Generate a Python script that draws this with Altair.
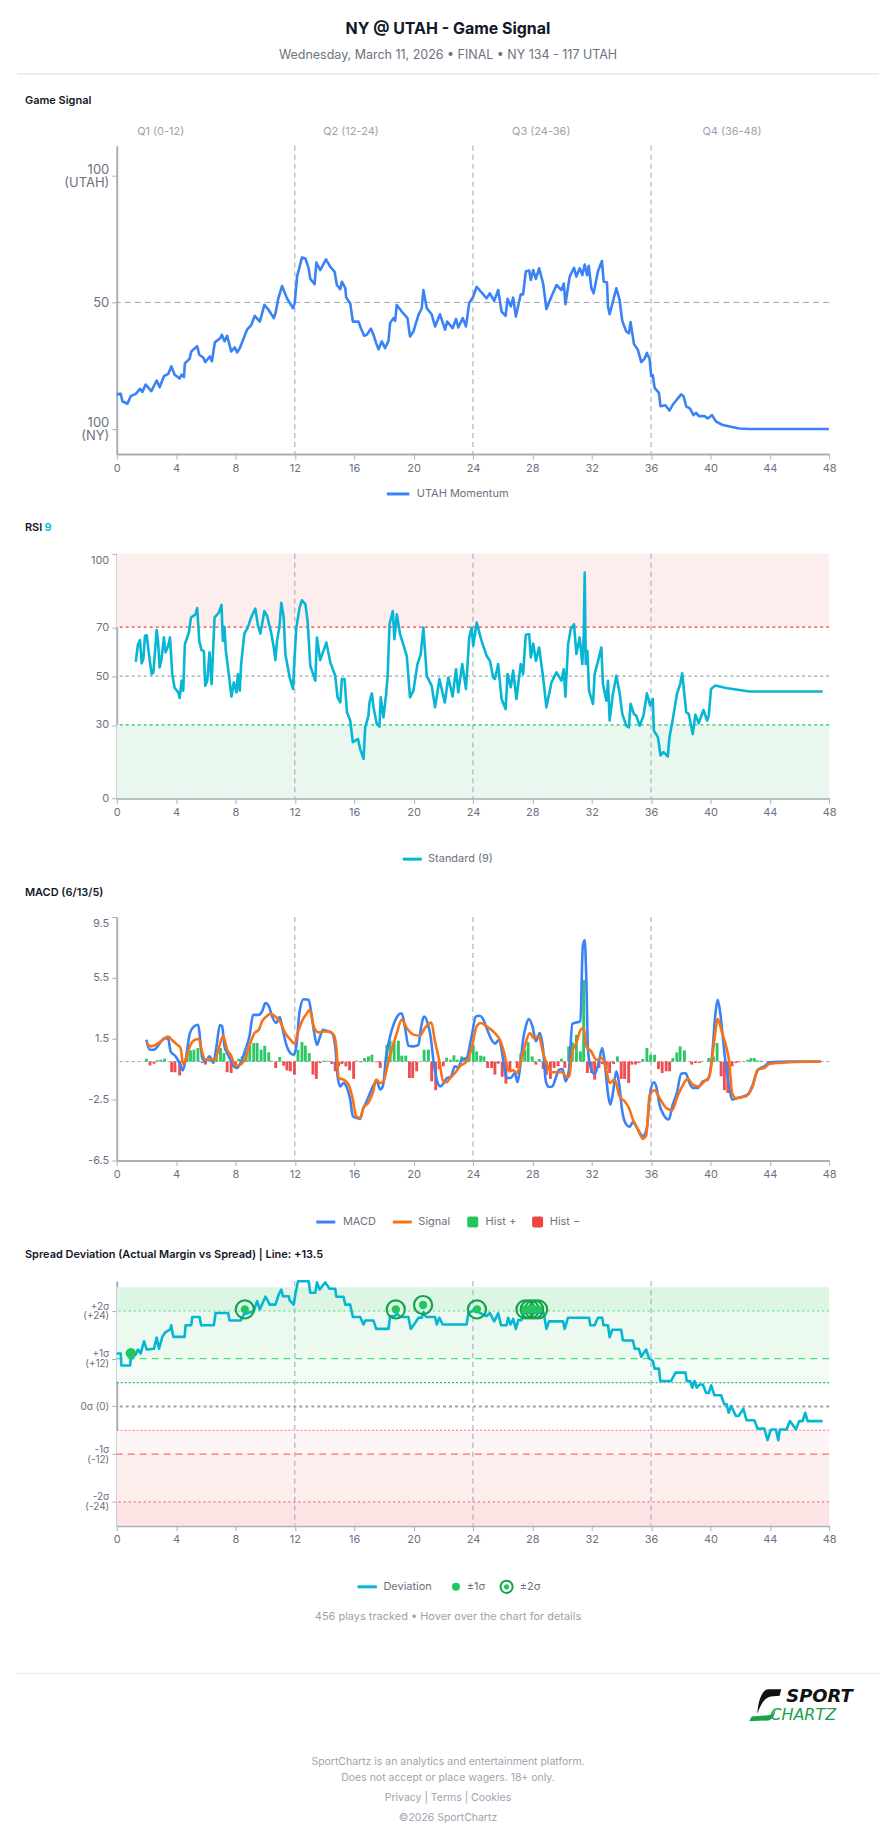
import altair as alt
import pandas as pd

# ---------------- palette / type ----------------
FONT = "Inter"
INK = "#111827"
MUTED = "#6b7280"
FAINT = "#9ca3af"
AXIS_GRAY = "#a9aeb8"
REF_GRAY = "#9ca3af"
BLUE = "#3b82f6"
CYAN = "#06b6d4"
ORANGE = "#f97316"
GREEN = "#22c55e"
DARK_GREEN = "#16a34a"
RED = "#ef4444"

PLOT_W = 714          # plot-area width shared by every panel
PLOT_LEFT = 116       # page x of the plot-area left edge

# ---------------- data ----------------
quarter_breaks = [12, 24, 36]
quarter_names = ["Q1 (0-12)", "Q2 (12-24)", "Q3 (24-36)", "Q4 (36-48)"]
quarter_name_pos = [2.96, 15.78, 28.6, 41.45]

# Game signal: 0 = NY certain, 100 = UTAH certain
momentum_t = [0, 0.27, 0.38, 0.72, 0.94, 1.28, 1.57, 1.73, 1.95, 2.33, 2.69, 2.89, 3.18, 3.47,
              3.68, 3.9, 4.24, 4.37, 4.53, 4.59, 4.91, 5.02, 5.42, 5.56, 5.83, 5.96, 6.27, 6.41,
              6.61, 6.99, 7.08, 7.26, 7.44, 7.71, 7.96, 8.11, 8.29, 8.78, 9.05, 9.3, 9.64, 9.95,
              10.24, 10.58, 10.71, 10.87, 11.14, 11.47, 11.88, 11.99, 12.15, 12.48, 12.71, 12.93,
              13.04, 13.33, 13.45, 13.71, 14.1, 14.39, 14.68, 14.83, 15.06, 15.17, 15.4, 15.46,
              15.73, 15.91, 16.29, 16.45, 16.67, 16.85, 17.12, 17.3, 17.48, 17.64, 17.86, 18.08,
              18.31, 18.42, 18.64, 18.76, 18.87, 19.2, 19.59, 19.76, 19.99, 20.33, 20.55, 20.66,
              20.89, 21.22, 21.45, 21.78, 22.12, 22.27, 22.63, 22.86, 23.01, 23.31, 23.53, 23.75,
              24.02, 24.25, 24.92, 25.14, 25.43, 25.7, 25.93, 26.2, 26.33, 26.55, 26.71, 26.89,
              27.22, 27.38, 27.56, 27.79, 27.9, 28.06, 28.24, 28.46, 28.73, 28.95, 29.29, 29.63,
              29.96, 30.12, 30.23, 30.52, 30.81, 30.97, 31.19, 31.37, 31.53, 31.69, 31.8, 31.98,
              32.13, 32.43, 32.69, 32.81, 33.03, 33.1, 33.21, 33.43, 33.66, 33.88, 34.06, 34.33,
              34.51, 34.62, 34.85, 35.11, 35.34, 35.56, 35.72, 35.9, 36.01, 36.12, 36.24, 36.53,
              36.64, 36.97, 37.24, 37.47, 38.03, 38.19, 38.37, 38.63, 38.86, 39.04, 39.22, 39.6,
              39.82, 40.11, 40.38, 40.83, 41.39, 41.95, 42.62, 47.98]
momentum_v = [13.6, 13.8, 10.9, 9.9, 12.9, 13.8, 15.8, 14.6, 17.5, 14.9, 19.1, 16.4, 20.8, 21.7,
              24.7, 21.4, 19.9, 21.4, 20.4, 25.9, 27.7, 30.6, 32.7, 29.3, 28.2, 26.4, 28.6, 26.7,
              34.2, 35.9, 37.2, 34.6, 36.8, 30.6, 32.2, 30.2, 31.9, 39.2, 40.9, 44.7, 42.4, 49.0,
              47.0, 43.8, 46.0, 51.2, 56.5, 51.6, 47.7, 49.7, 60.2, 67.8, 67.4, 63.5,
              59.3, 57.2, 65.8, 62.8, 67.0, 64.1, 62.1, 56.9, 55.2, 58.2, 55.6, 51.9,
              49.7, 42.4, 42.4, 39.8, 36.8, 37.2, 39.6, 37.2, 33.9, 31.5, 34.6, 31.9,
              34.8, 41.8, 43.8, 42.7, 49.0, 46.4, 43.8, 36.5, 38.5, 45.1, 47.7, 54.9,
              47.7, 45.3, 40.5, 45.3, 39.2, 42.4, 39.8, 43.5, 40.1, 43.8, 40.5, 49.7,
              52.3, 56.2, 51.6, 53.6, 50.6, 54.9, 46.4, 44.7, 51.4, 48.4, 51.9, 44.4,
              53.2, 53.2, 62.2, 62.6, 58.9, 62.8, 59.3, 63.5, 57.5, 47.4, 52.3, 56.9,
              54.9, 57.5, 49.3, 60.2, 63.7, 60.2, 63.5, 60.8, 65.0, 60.8, 64.5, 55.6,
              53.6, 62.4, 66.4, 58.2, 58.0, 48.4, 45.3, 50.3, 55.6, 51.0, 42.7, 38.5,
              37.8, 42.2, 33.5, 31.3, 26.4, 27.7, 30.0, 27.7, 20.8, 21.2, 16.2, 14.2,
              8.9, 9.3, 7.2, 9.6, 13.6, 12.9, 8.9, 8.0, 5.4, 6.3, 5.0, 5.0,
              4.1, 5.4, 2.8, 1.5, 0.8, 0.1, -0.1, -0.1]

rsi_t = [1.28, 1.43, 1.57, 1.68, 1.79, 1.9, 2.02, 2.17, 2.35, 2.47, 2.69, 2.78, 2.89, 3.0, 3.18,
         3.29, 3.47, 3.59, 3.74, 3.9, 4.15, 4.24, 4.37, 4.48, 4.59, 4.86, 5.0, 5.31, 5.42, 5.56,
         5.71, 5.87, 5.96, 6.1, 6.25, 6.39, 6.59, 6.88, 7.06, 7.15, 7.26, 7.35, 7.55, 7.73, 7.89,
         8.07, 8.16, 8.29, 8.38, 8.6, 8.83, 9.05, 9.34, 9.52, 9.68, 9.95, 10.13, 10.4, 10.58,
         10.69, 10.8, 10.96, 11.09, 11.25, 11.36, 11.65, 11.88, 11.97, 12.1, 12.32, 12.48, 12.71,
         12.86, 13.04, 13.38, 13.49, 13.71, 14.12, 14.39, 14.72, 14.88, 15.06, 15.17, 15.35,
         15.51, 15.73, 15.91, 16.25, 16.4, 16.63, 16.74, 16.96, 17.03, 17.19, 17.3, 17.52, 17.7,
         17.79, 17.97, 18.15, 18.26, 18.38, 18.6, 18.71, 18.87, 19.09, 19.27, 19.54, 19.76,
         19.99, 20.26, 20.48, 20.66, 20.89, 21.22, 21.45, 21.74, 22.1, 22.34, 22.63, 22.86,
         23.01, 23.28, 23.53, 23.75, 23.91, 24.02, 24.25, 24.58, 24.92, 25.14, 25.37, 25.48,
         25.7, 25.93, 26.2, 26.33, 26.55, 26.71, 26.93, 27.22, 27.38, 27.56, 27.79, 27.9, 28.06,
         28.24, 28.46, 28.73, 28.95, 29.29, 29.63, 29.96, 30.12, 30.23, 30.41, 30.59, 30.81,
         30.97, 31.19, 31.37, 31.46, 31.53, 31.6, 31.71, 31.82, 32.09, 32.2, 32.43, 32.65,
         32.76, 32.99, 33.1, 33.21, 33.43, 33.66, 33.88, 34.06, 34.33, 34.51, 34.62, 34.84,
         35.0, 35.23, 35.49, 35.72, 35.94, 36.12, 36.19, 36.46, 36.64, 36.84, 37.13, 37.24,
         37.47, 37.74, 37.96, 38.1, 38.37, 38.54, 38.81, 38.99, 39.21, 39.53, 39.78, 39.89,
         40.04, 40.33, 41.05, 41.5, 41.95, 42.62, 47.56]
rsi_v = [55.8, 63.0, 64.7, 55.2, 56.9, 66.5, 66.7, 59.0, 50.8, 51.5, 68.8, 64.4, 53.5, 56.2, 65.8,
         59.7, 62.4, 65.8, 50.8, 45.1, 43.3, 41.0, 48.1, 44.0, 63.0, 67.8, 73.9, 75.3, 77.8, 64.4,
         60.6, 60.3, 46.0, 48.1, 59.7, 46.7, 73.9, 76.0, 79.1, 64.4, 70.1, 60.3, 50.8, 41.6, 47.4,
         43.3, 50.8, 44.0, 54.9, 67.4, 69.8, 73.9, 77.6, 70.5, 67.4, 76.6, 74.6, 67.8, 61.7,
         56.5, 64.4, 70.1, 80.0, 73.9, 59.0, 49.4, 44.7, 56.2, 69.8, 78.0, 81.0, 79.4,
         72.6, 54.2, 48.1, 65.8, 56.5, 63.7, 55.6, 50.1, 41.3, 39.2, 48.8, 48.8,
         35.2, 31.8, 22.9, 24.3, 20.2, 16.1, 29.0, 33.8, 39.2, 42.9, 37.2, 30.4, 29.3,
         41.3, 33.1, 42.6, 50.8, 71.2, 76.6, 65.1, 75.3, 67.1, 63.7, 58.3, 41.3,
         44.0, 54.9, 58.9, 69.8, 50.1, 46.0, 37.2, 48.8, 39.2, 49.4, 41.6, 52.8,
         43.3, 54.9, 44.7, 65.8, 69.8, 62.4, 71.9, 64.4, 58.3, 56.2, 49.4, 48.8,
         54.9, 40.6, 36.5, 50.8, 45.4, 52.2, 40.6, 54.9, 50.8, 66.9, 67.1, 57.6, 63.3,
         56.2, 61.7, 49.4, 37.2, 47.4, 51.5, 48.1, 52.8, 41.6, 63.0, 69.2, 71.2,
         59.0, 65.8, 54.9, 65.8, 92.3, 54.9, 60.3, 44.0, 38.6, 50.8, 56.2, 61.7,
         46.7, 39.9, 48.1, 31.8, 42.6, 50.1, 43.3, 34.5, 29.7, 29.0, 38.6, 34.5,
         33.8, 29.7, 33.8, 42.9, 37.9, 40.6, 27.7, 25.0, 17.5, 18.9, 17.1, 25.0,
         32.4, 42.6, 46.7, 51.1, 35.2, 34.5, 26.3, 34.2, 30.7, 36.1, 31.8, 33.8,
         44.7, 46.1, 45.1, 44.7, 44.3, 43.7, 43.7]

macd_t = [2.0, 2.22, 2.51, 2.91, 3.23, 3.47, 3.63, 3.97, 4.24, 4.46, 4.64, 4.93, 5.2, 5.49, 5.6,
          5.76, 5.98, 6.25, 6.5, 6.72, 6.95, 7.1, 7.26, 7.44, 7.66, 7.89, 8.11, 8.34, 8.67, 8.94,
          9.19, 9.57, 9.79, 10.02, 10.24, 10.47, 10.74, 10.98, 11.14, 11.43, 11.7, 11.92, 12.1,
          12.32, 12.59, 12.93, 13.11, 13.31, 13.49, 13.67, 13.89, 14.27, 14.5, 14.72, 14.88,
          15.06, 15.28, 15.51, 15.73, 15.91, 16.13, 16.4, 16.58, 16.81, 17.03, 17.26, 17.52,
          17.75, 17.93, 18.15, 18.42, 18.69, 18.98, 19.2, 19.43, 19.65, 19.99, 20.33, 20.48,
          20.71, 20.95, 21.18, 21.33, 21.56, 21.8, 22.0, 22.23, 22.5, 22.79, 23.01, 23.24,
          23.57, 23.91, 24.2, 24.47, 24.7, 24.92, 25.25, 25.48, 25.77, 25.93, 26.1, 26.26,
          26.55, 26.82, 27.0, 27.16, 27.38, 27.56, 27.76, 28.01, 28.24, 28.5, 28.73, 28.91,
          29.13, 29.35, 29.58, 29.8, 30.03, 30.25, 30.47, 30.7, 30.96, 31.24, 31.4, 31.53,
          31.64, 31.75, 31.97, 32.2, 32.49, 32.71, 32.87, 33.09, 33.25, 33.43, 33.66, 33.84,
          34.06, 34.33, 34.56, 34.78, 35.12, 35.45, 35.72, 35.94, 36.19, 36.35, 36.57, 36.84,
          37.2, 37.43, 37.74, 38.03, 38.32, 38.59, 38.81, 39.15, 39.49, 39.83, 40.11, 40.34,
          40.49, 40.65, 40.83, 41.01, 41.23, 41.46, 41.84, 42.51, 42.85, 43.18, 43.63, 43.97,
          45.3, 47.44]
macd_v = [1.44, 0.78, 0.78, 1.22, 1.55, 1.48, 0.67, 0.34, -0.1, -0.58, 0.12, 1.87, 2.31, 2.42, 1.66,
          0.23, 0.0, 0.34, -0.05, 1.0, 2.4, 2.31, 1.0, 0.56, 0.12, -0.31, -0.42, -0.1, 0.78, 1.66,
          3.07, 3.07, 3.29, 3.84, 3.66, 2.96, 2.53, 2.92, 2.31, 1.1, 0.56, 0.45, 1.0,
          3.29, 4.1, 4.06, 3.18, 1.87, 1.1, 1.55, 2.09, 1.98, 1.87, 1.0, -0.97,
          -1.63, -1.41, -1.73, -2.5, -3.59, -3.7, -3.77, -3.16, -2.67, -2.17, -1.63, -1.3,
          -1.84, -1.63, 0.34, 1.66, 2.53, 3.07, 3.18, 2.2, 1.04, 1.0, 1.1, 2.09,
          2.96, 2.53, 1.44, 0.12, -1.19, -1.63, -1.45, -1.1, -1.0, -0.31, -0.4, 0.12,
          0.23, 1.66, 2.97, 3.01, 2.75, 2.2, 1.44, 1.18, 1.44, 0.78, -0.31, -1.08,
          -1.08, -0.75, -1.36, -0.53, 1.44, 2.31, 2.79, 2.31, 1.33, 1.87, 0.78, -1.3,
          -1.67, -1.63, -1.08, -0.53, -0.49, -1.3, -0.53, 2.48, 2.57, 2.64, 7.55, 7.99,
          5.37, 0.78, -0.53, -0.82, 0.0, 0.89, 0.0, -2.06, -2.83, -2.06, -0.64, -1.41,
          -3.27, -4.14, -4.29, -3.98, -4.47, -4.9, -4.36, -2.06, -1.36, -1.63, -2.83, -3.48,
          -3.81, -2.93, -2.06, -0.8, -0.75, -1.41, -1.73, -1.73, -1.3, -1.19, 0.34, 3.18,
          4.06, 3.29, 1.66, 0.0, -1.41, -2.5, -2.39, -2.17, -1.52, -0.58, -0.31, -0.05,
          0.0, 0.0]

signal_t = [2.0, 2.29, 2.62, 2.96, 3.29, 3.47, 3.74, 4.08, 4.3, 4.48, 4.64, 4.97, 5.27, 5.54, 5.71,
            5.98, 6.32, 6.61, 6.88, 7.17, 7.44, 7.71, 8.0, 8.34, 8.67, 9.0, 9.28, 9.57, 9.79,
            10.08, 10.35, 10.69, 11.03, 11.36, 11.7, 11.97, 12.26, 12.59, 12.82, 13.0, 13.27,
            13.6, 13.94, 14.27, 14.61, 14.79, 14.95, 15.28, 15.62, 15.91, 16.13, 16.4, 16.63,
            16.96, 17.26, 17.48, 17.75, 17.97, 18.26, 18.53, 18.87, 19.2, 19.54, 19.99, 20.43,
            20.76, 21.2, 21.42, 21.72, 22.0, 22.23, 22.45, 22.79, 23.12, 23.57, 23.91, 24.25,
            24.52, 24.92, 25.48, 25.81, 26.08, 26.33, 26.48, 26.71, 26.97, 27.22, 27.49, 27.83,
            28.1, 28.43, 28.73, 29.0, 29.3, 29.63, 30.03, 30.25, 30.47, 30.7, 30.96, 31.26,
            31.46, 31.64, 31.97, 32.31, 32.71, 32.98, 33.21, 33.54, 33.88, 34.22, 34.51, 34.78,
            35.12, 35.45, 35.67, 35.9, 36.23, 36.57, 37.02, 37.43, 37.74, 38.1, 38.48, 38.81,
            39.21, 39.6, 39.93, 40.27, 40.49, 40.79, 41.06, 41.28, 41.46, 41.72, 42.4, 42.85,
            43.18, 43.63, 43.97, 45.3, 47.44]
signal_v = [1.22, 1.0, 1.1, 1.33, 1.55, 1.65, 1.4, 1.1, 0.89, -0.2, 0.12, 1.1, 1.44, 1.48, 0.78,
            0.12, 0.17, 0.12, 0.89, 1.7, 0.78, 0.39, -0.27, -0.2, 0.23, 1.22, 1.87, 2.09, 2.64,
            2.96, 3.14, 2.96, 2.57, 1.87, 1.44, 1.18, 2.09, 2.86, 3.18, 3.4, 2.31,
            1.92, 1.98, 1.98, 1.77, 1.0, -1.08, -1.19, -1.52, -2.5, -3.59, -3.7, -3.03,
            -2.7, -2.04, -1.19, -1.41, -1.3, -0.2, 0.78, 1.87, 2.75, 2.2, 1.77, 1.7,
            2.2, 2.57, 1.44, 0.12, -1.3, -1.35, -1.1, -0.75, -0.31, 0.0, 0.89, 2.31,
            2.53, 2.31, 1.87, 1.44, 0.67, -0.42, -0.6, -0.58, -0.75, 0.0, 1.0, 1.87,
            1.55, 1.66, 0.56, -0.2, -0.7, -0.7, -0.7, -0.97, -1.0, 0.67, 1.22, 2.09,
            2.2, 1.0, 0.67, 0.12, 0.23, -0.53, -1.41, -1.19, -2.28, -2.61, -3.05, -3.81,
            -4.47, -5.08, -4.86, -2.28, -1.89, -2.39, -3.05, -3.2, -2.39, -1.63, -1.14, -1.52,
            -1.63, -1.3, -0.97, 1.44, 2.79, 1.87, 1.0, -0.1, -2.06, -2.39, -2.28, -1.63,
            -0.53, -0.42, -0.15, -0.05, 0.0]

hist_t = [2.0, 2.24, 2.51, 2.73, 2.96, 3.23, 3.7, 3.92, 4.24, 4.48, 4.75, 4.97, 5.2, 5.47, 5.76,
          5.98, 6.25, 6.5, 6.72, 6.99, 7.22, 7.44, 7.71, 8.0, 8.22, 8.45, 8.72, 8.96, 9.23, 9.46,
          9.73, 9.97, 10.24, 10.47, 10.71, 10.98, 11.25, 11.47, 11.7, 11.97, 12.21, 12.48, 12.71,
          12.97, 13.22, 13.45, 13.71, 13.94, 14.21, 14.5, 14.72, 14.95, 15.17, 15.44, 15.69,
          15.96, 16.18, 16.45, 16.69, 16.96, 17.19, 17.48, 17.75, 18.2, 18.42, 18.69, 18.98,
          19.2, 19.47, 19.72, 19.94, 20.21, 20.71, 21.0, 21.22, 21.49, 21.74, 22.0, 22.23,
          22.5, 22.72, 22.95, 23.24, 23.46, 23.75, 24.02, 24.25, 24.52, 24.74, 24.99, 25.26,
          25.48, 25.7, 25.97, 26.22, 26.49, 26.98, 27.22, 27.49, 27.72, 27.99, 28.24, 28.46,
          28.73, 28.95, 29.22, 29.47, 29.74, 29.96, 30.19, 30.45, 30.7, 30.97, 31.24, 31.46,
          31.71, 31.98, 32.2, 32.49, 32.71, 32.99, 33.21, 33.48, 33.73, 33.99, 34.22, 34.49,
          34.71, 34.96, 35.18, 35.45, 35.72, 35.97, 36.24, 36.5, 36.75, 37.02, 37.25, 37.47,
          37.74, 37.96, 38.25, 38.74, 38.99, 39.26, 39.89, 40.2, 40.45, 40.72, 40.94, 41.17,
          41.46, 41.72, 41.95, 42.51, 42.73, 42.96, 43.18, 43.41]
hist_v = [0.19, -0.25, -0.14, 0.08, 0.12, 0.19, -0.7, -0.7, -0.92, -0.1, 0.56, 0.74, 0.78, 0.89, -0.1,
          -0.2, 0.17, -0.14, 0.56, 0.89, 0.56, -0.7, -0.75, -0.36, 0.19, 0.34, 0.67, 1.04, 1.22, 1.22,
          0.78, 1.04, 0.61, 0.05, -0.42, 0.3, -0.27, -0.58, -0.64, -0.86, 0.78, 1.28, 1.04,
          0.56, -0.86, -1.14, -0.1, 0.06, 0.06, -0.16, -0.64, -0.31, -0.16, -0.31, -0.58,
          -1.14, 0.06, -0.05, 0.23, 0.34, 0.45, -0.05, -0.42, 1.1, 1.37, 1.37, 1.37,
          0.39, 0.39, -1.08, -1.08, -0.64, 0.78, 0.78, -1.3, -1.88, -0.49, -0.31, 0.25,
          0.12, 0.41, 0.12, 0.34, 0.17, 0.45, 1.1, 0.67, 0.39, 0.34, -0.42, -0.42,
          -0.86, -0.14, -1.0, -1.45, -0.7, -0.42, 0.52, 0.78, 1.27, 0.34, -0.2, 0.17,
          -0.49, -0.86, -1.14, -0.42, -0.31, 0.19, -0.42, 0.99, 1.27, 1.76, 0.67, 5.37,
          -0.75, -0.75, -1.19, -0.42, -0.16, -0.49, -0.75, -0.16, 0.34, -1.14, -1.14, -1.41,
          -0.2, -0.2, -0.1, 0.17, 0.89, 0.45, 0.45, -0.49, -0.75, -0.64, -0.64, 0.23,
          0.6, 1.0, 0.74, -0.2, -0.1, -0.1, 0.23, 0.34, 1.22, -0.97, -1.88, -2.06,
          -0.31, -0.1, -0.05, 0.12, 0.23, 0.23, 0.08, 0.06]

# actual margin minus spread (points); 12 points = 1 sigma
spread_t = [0, 0.27, 0.31, 0.9, 0.94, 1.28, 1.43, 1.61, 1.84, 2.02, 2.51, 2.69, 2.85, 3.07, 3.29,
            3.59, 3.67, 3.81, 4.57, 4.64, 5.02, 5.09, 5.58, 5.69, 6.54, 6.66, 7.51, 7.6, 8.34,
            8.56, 9.23, 9.46, 9.64, 10.02, 10.31, 10.69, 10.91, 11.09, 11.2, 11.59, 11.65, 11.92,
            12.03, 12.21, 12.93, 13.04, 13.38, 13.49, 13.67, 14.05, 14.34, 14.72, 14.79, 15.28,
            15.4, 15.73, 15.91, 16.4, 16.63, 16.74, 17.3, 17.48, 18.31, 18.42, 18.76, 18.87,
            19.09, 19.65, 19.81, 20.1, 20.33, 20.55, 20.66, 20.84, 21.45, 21.56, 21.74, 21.96,
            23.57, 23.69, 24.13, 24.47, 24.92, 25.14, 25.43, 25.7, 25.9, 26.26, 26.37, 26.53,
            26.71, 26.89, 27.05, 27.27, 27.43, 28.77, 28.95, 29.13, 30.07, 30.18, 30.4, 31.82,
            31.91, 32.2, 32.42, 32.71, 32.8, 33.1, 33.21, 33.39, 33.99, 34.1, 34.78, 34.9, 35.18,
            35.34, 35.67, 35.85, 36.12, 36.24, 36.53, 36.62, 37.35, 37.65, 38.32, 38.41, 38.63,
            38.77, 38.93, 39.08, 39.26, 39.49, 39.71, 39.89, 40.05, 40.27, 40.72, 40.94, 41.1,
            41.23, 41.39, 41.72, 41.9, 42.22, 42.44, 42.96, 43.18, 43.63, 43.85, 44.08, 44.41,
            44.57, 44.68, 45.13, 45.36, 45.76, 45.98, 46.21, 46.39, 46.55, 47.56]
spread_v = [13.3, 13.3, 10.3, 10.3, 11.8, 13.1, 14.3, 13.3, 16.4, 14.3, 14.5, 17.3, 14.5, 17.5, 18.7,
            19.3, 20.4, 17.5, 17.5, 20.4, 20.4, 22.5, 22.5, 20.4, 20.4, 23.5, 23.5, 21.6, 21.6,
            23.1, 24.0, 26.5, 24.4, 27.6, 25.6, 25.6, 28.1, 29.4, 27.7, 27.7, 26.7, 25.6,
            28.1, 31.5, 31.5, 28.6, 28.6, 31.2, 29.4, 31.2, 29.6, 29.6, 27.6, 27.6,
            25.6, 25.6, 22.5, 22.5, 20.6, 21.6, 21.6, 19.5, 19.5, 22.7, 22.8, 23.4,
            22.5, 22.5, 19.5, 21.0, 22.3, 22.3, 23.7, 22.5, 22.5, 20.6, 22.3, 20.6,
            20.6, 23.4, 24.4, 23.5, 22.7, 23.5, 21.4, 23.4, 20.4, 20.4, 22.3, 20.6,
            22.0, 19.5, 21.7, 21.7, 23.5, 23.5, 19.5, 21.4, 21.4, 19.5, 22.3, 22.3,
            20.4, 20.4, 22.3, 22.3, 20.4, 20.4, 17.4, 19.3, 19.3, 16.6, 16.6, 14.5, 14.5,
            12.5, 14.3, 12.2, 11.4, 9.5, 9.5, 6.4, 6.4, 8.5, 8.5, 6.4, 6.4,
            4.7, 6.4, 4.7, 5.5, 5.5, 3.4, 3.4, 5.3, 2.8, 2.8, 0.5, 0.5,
            -1.6, 0.1, -2.4, -2.4, -0.6, -3.5, -3.5, -5.6, -5.6, -8.5, -5.8, -5.8,
            -8.5, -5.8, -5.8, -3.7, -5.8, -3.7, -3.7, -1.6, -3.7, -3.7]

sigma1_t = [0.95]
sigma1_v = [13.4]
sigma2_t = [8.63, 18.8, 20.64, 24.27, 27.54, 27.83, 28.12, 28.39]
sigma2_v = [24.4, 24.4, 25.5, 24.4, 24.4, 24.4, 24.4, 24.4]

rsi_zone_lo = [70, 0]
rsi_zone_hi = [100, 30]
rsi_zone_fill = ["#fdeded", "#e9f7ee"]

spread_zone_lo = [24, 12, 6, -12, -24, -30]
spread_zone_hi = [30, 24, 12, -6, -12, -24]
spread_zone_fill = ["#ddf5e4", "#ebf9ef", "#f4fcf6", "#fef6f6", "#fdeeee", "#fde3e4"]

# ---------------- shared scales / axes ----------------
X_SCALE = alt.Scale(domain=[0, 48], nice=False, zero=False, padding=0)
X_AXIS = alt.Axis(values=list(range(0, 49, 4)), title=None, grid=False, labelFlush=False)
ONE = alt.Data(values=[{"k": 0}])


def ex(field):
    return alt.X(field, type="quantitative", scale=X_SCALE, axis=X_AXIS)


def frame(**cols):
    return pd.DataFrame(cols)


def label(s, x, y, size=11, color=MUTED, weight="normal", align="left", style="normal", font=FONT):
    return alt.Chart(ONE).mark_text(
        text=s, fontSize=size, color=color, fontWeight=weight, align=align,
        baseline="middle", font=font, fontStyle=style,
    ).encode(x=alt.value(x), y=alt.value(y))


def seg(x1, x2, y, color, width=1.0):
    return alt.Chart(ONE).mark_rule(color=color, strokeWidth=width).encode(
        x=alt.value(x1), x2=alt.value(x2), y=alt.value(y))


def dot(x, y, size, color, filled=True, width=2.0):
    return alt.Chart(ONE).mark_point(
        shape="circle", filled=filled, size=size, color=color, opacity=1, strokeWidth=width
    ).encode(x=alt.value(x), y=alt.value(y))


def rel(page_x):
    return page_x - PLOT_LEFT


def quarter_rules():
    return alt.Chart(frame(t=quarter_breaks)).mark_rule(
        color=REF_GRAY, strokeWidth=1, strokeDash=[5, 4]).encode(x=ex("t"))


# ---------------- header ----------------
header = alt.layer(
    seg(rel(0), rel(896), 0.5, "white"),
    label("NY @ UTAH - Game Signal", rel(448), 27.5, size=16, color=INK, weight="bold", align="center"),
    label("Wednesday, March 11, 2026 \u2022 FINAL \u2022 NY 134 - 117 UTAH", rel(448), 52.7,
          size=12.5, color=MUTED, align="center"),
    seg(rel(16), rel(880), 72, "#d9dbe0", 1),
    label("Game Signal", rel(24), 99.5, size=11, color=INK, weight=600),
).properties(width=PLOT_W, height=144)

# ---------------- panel 1: game signal ----------------
Y1_SCALE = alt.Scale(domain=[-10, 112], nice=False, zero=False)
Y1_AXIS = alt.Axis(
    values=[0, 50, 100], title=None, grid=False, labelFontSize=13, labelLineHeight=13,
    labelExpr="datum.value == 100 ? ['100', '(UTAH)'] : datum.value == 0 ? ['100', '(NY)'] : '50'",
    labelOffset={"condition": {"test": "datum.value == 100 || datum.value == 0", "value": -6.5}, "value": 0},
)


def ey1(field):
    return alt.Y(field, type="quantitative", scale=Y1_SCALE, axis=Y1_AXIS)


mom_df = frame(t=momentum_t, v=momentum_v)
p1 = alt.layer(
    alt.Chart(frame(v=[50])).mark_rule(color=REF_GRAY, strokeWidth=1, strokeDash=[6, 4]).encode(y=ey1("v")),
    quarter_rules(),
    alt.Chart(mom_df).mark_line(color=BLUE, strokeWidth=2.6, strokeJoin="round").encode(x=ex("t"), y=ey1("v")),
    alt.Chart(frame(t=quarter_name_pos, name=quarter_names)).mark_text(
        fontSize=11, color=FAINT, font=FONT, align="center", baseline="middle"
    ).encode(x=ex("t"), y=alt.value(-14), text="name:N"),
).properties(width=PLOT_W, height=309)

# ---------------- spacer A ----------------
spacer_a = alt.layer(
    seg(rel(386.7), rel(409.3), 40, BLUE, 3),
    label("UTAH Momentum", rel(416.7), 40),
    label("RSI", rel(24), 74, size=11, color=INK, weight=600),
    label("9", rel(43.5), 74, size=11, color=CYAN, weight=600),
).properties(width=PLOT_W, height=100)

# ---------------- panel 2: RSI ----------------
RSI_SCALE = alt.Scale(domain=[0, 100], nice=False)
RSI_AXIS = alt.Axis(values=[0, 30, 50, 70, 100], title=None, grid=False,
                    labelOffset={"condition": {"test": "datum.value == 100", "value": 7}, "value": 0})


def ersi(field):
    return alt.Y(field, type="quantitative", scale=RSI_SCALE, axis=RSI_AXIS)


rsi_panel = alt.layer(
    alt.Chart(frame(lo=rsi_zone_lo, hi=rsi_zone_hi, fill=rsi_zone_fill, t0=[0, 0], t1=[48, 48]))
    .mark_rect().encode(x=ex("t0"), x2="t1", y=ersi("lo"), y2="hi", color=alt.Color("fill:N", scale=None)),
    alt.Chart(frame(v=[70])).mark_rule(color=RED, strokeWidth=1.2, strokeDash=[3, 3]).encode(y=ersi("v")),
    alt.Chart(frame(v=[50])).mark_rule(color=REF_GRAY, strokeWidth=1.2, strokeDash=[3, 3]).encode(y=ersi("v")),
    alt.Chart(frame(v=[30])).mark_rule(color=GREEN, strokeWidth=1.2, strokeDash=[3, 3]).encode(y=ersi("v")),
    quarter_rules(),
    alt.Chart(frame(t=rsi_t, v=rsi_v)).mark_line(color=CYAN, strokeWidth=2.6, strokeJoin="round").encode(
        x=ex("t"), y=ersi("v")),
).properties(width=PLOT_W, height=245)

# ---------------- spacer B ----------------
spacer_b = alt.layer(
    seg(rel(402.7), rel(421.7), 61, CYAN, 3),
    label("Standard (9)", rel(428), 61),
    label("MACD (6/13/5)", rel(24), 95, size=11, color=INK, weight=600),
).properties(width=PLOT_W, height=119)

# ---------------- panel 3: MACD ----------------
MACD_SCALE = alt.Scale(domain=[-6.5, 9.5], nice=False, zero=False, padding=0)
MACD_AXIS = alt.Axis(
    values=[-6.5, -2.5, 1.5, 5.5, 9.5], title=None, grid=False,
    labelExpr="datum.value < 0 ? '-' + format(-datum.value, '.1f') : format(datum.value, '.1f')",
    labelOffset={"condition": {"test": "datum.value == 9.5", "value": 7}, "value": 0},
)


def emacd(field):
    return alt.Y(field, type="quantitative", scale=MACD_SCALE, axis=MACD_AXIS)


macd_panel = alt.layer(
    alt.Chart(frame(v=[0])).mark_rule(color=REF_GRAY, strokeWidth=1, strokeDash=[3, 3]).encode(y=emacd("v")),
    quarter_rules(),
    alt.Chart(frame(t=hist_t, v=hist_v)).mark_bar(size=2.9, opacity=0.95).encode(
        x=ex("t"), y=emacd("v"),
        color=alt.condition("datum.v >= 0", alt.value(GREEN), alt.value(RED))),
    alt.Chart(frame(t=macd_t, v=macd_v)).mark_line(color=BLUE, strokeWidth=2.6, interpolate="monotone").encode(
        x=ex("t"), y=emacd("v")),
    alt.Chart(frame(t=signal_t, v=signal_v)).mark_line(color=ORANGE, strokeWidth=2.6, interpolate="monotone").encode(
        x=ex("t"), y=emacd("v")),
).properties(width=PLOT_W, height=244)

# ---------------- spacer C ----------------
spacer_c = alt.layer(
    seg(rel(316), rel(335), 61.7, BLUE, 3),
    label("MACD", rel(342.7), 61.7),
    seg(rel(392.7), rel(411.7), 61.7, ORANGE, 3),
    label("Signal", rel(418.3), 61.7),
    alt.Chart(ONE).mark_rect(color=GREEN, cornerRadius=2).encode(
        x=alt.value(rel(467.3)), x2=alt.value(rel(478.3)), y=alt.value(56.2), y2=alt.value(67.2)),
    label("Hist +", rel(485.7), 61.7),
    alt.Chart(ONE).mark_rect(color=RED, cornerRadius=2).encode(
        x=alt.value(rel(532.3)), x2=alt.value(rel(543.3)), y=alt.value(56.2), y2=alt.value(67.2)),
    label("Hist \u2212", rel(550), 61.7),
    label("Spread Deviation (Actual Margin vs Spread) | Line: +13.5", rel(24), 95,
          size=11, color=INK, weight=600),
).properties(width=PLOT_W, height=121)

# ---------------- panel 4: spread deviation ----------------
SP_SCALE = alt.Scale(domain=[-30, 31.5], nice=False, zero=False)
SP_AXIS = alt.Axis(
    values=[24, 12, 0, -12, -24], title=None, grid=False, labelFontSize=10, labelLineHeight=10,
    labelExpr=("datum.value == 24 ? ['+2\u03c3', '(+24)'] : datum.value == 12 ? ['+1\u03c3', '(+12)'] : "
               "datum.value == 0 ? '0\u03c3 (0)' : datum.value == -12 ? ['-1\u03c3', '(-12)'] : ['-2\u03c3', '(-24)']"),
    labelOffset={"condition": {"test": "datum.value != 0", "value": -5}, "value": 0},
)


def esp(field):
    return alt.Y(field, type="quantitative", scale=SP_SCALE, axis=SP_AXIS)


def sp_rule(level, color, dash, width=1.2):
    return alt.Chart(frame(v=[level])).mark_rule(color=color, strokeWidth=width, strokeDash=dash).encode(y=esp("v"))


n_zones = len(spread_zone_lo)
spread_panel = alt.layer(
    alt.Chart(frame(lo=spread_zone_lo, hi=spread_zone_hi, fill=spread_zone_fill,
                    t0=[0] * n_zones, t1=[48] * n_zones))
    .mark_rect().encode(x=ex("t0"), x2="t1", y=esp("lo"), y2="hi", color=alt.Color("fill:N", scale=None)),
    sp_rule(24, "#4ade80", [2, 3]),
    sp_rule(12, "#4ade80", [7, 5]),
    sp_rule(6, "#22c55e", [2, 2]),
    sp_rule(0, REF_GRAY, [3, 3], 2),
    sp_rule(-6, "#f87171", [2, 2]),
    sp_rule(-12, "#f87171", [7, 5]),
    sp_rule(-24, "#f87171", [2, 3]),
    quarter_rules(),
    alt.Chart(frame(t=spread_t, v=spread_v)).mark_line(color=CYAN, strokeWidth=2.6, strokeJoin="round").encode(
        x=ex("t"), y=esp("v")),
    alt.Chart(frame(t=sigma2_t, v=sigma2_v)).mark_point(
        shape="circle", filled=False, size=330, color=DARK_GREEN, strokeWidth=2.2, opacity=1).encode(
        x=ex("t"), y=esp("v")),
    alt.Chart(frame(t=sigma2_t, v=sigma2_v)).mark_point(
        shape="circle", filled=True, size=70, color=GREEN, opacity=1).encode(x=ex("t"), y=esp("v")),
    alt.Chart(frame(t=sigma1_t, v=sigma1_v)).mark_point(
        shape="circle", filled=True, size=110, color=GREEN, opacity=1).encode(x=ex("t"), y=esp("v")),
).properties(width=PLOT_W, height=245)

# ---------------- footer ----------------
SWOOSH_TOP = "M 1 -1 L 0.2 -1 C -0.2 -1 -0.45 -0.3 -0.5 0.55 C -0.3 -0.1 0 -0.5 0.35 -0.55 L 0.9 -0.6 Z"
SWOOSH_LOW = "M -1 1 L 0.2 0.95 C 0.45 0.9 0.6 0.6 0.65 0.3 C 0.5 0.55 0.35 0.62 0.05 0.64 L -0.85 0.7 Z"

footer = alt.layer(
    seg(rel(357.3), rel(376.7), 61.3, CYAN, 3),
    label("Deviation", rel(383.3), 61.3),
    dot(rel(456), 61.3, 64, GREEN),
    label("\u00b11\u03c3", rel(466.7), 61.3),
    dot(rel(506.7), 61.3, 150, DARK_GREEN, filled=False, width=2),
    dot(rel(506.7), 61.3, 28, GREEN),
    label("\u00b12\u03c3", rel(520), 61.3),
    label("456 plays tracked \u2022 Hover over the chart for details", rel(448), 91.7,
          size=11, color=FAINT, align="center"),
    seg(rel(16), rel(880), 148, "#e5e7eb", 1),
    alt.Chart(ONE).mark_point(shape=SWOOSH_TOP, filled=True, size=1024, color="#111111", opacity=1,
                              strokeWidth=0).encode(x=alt.value(rel(766)), y=alt.value(180)),
    alt.Chart(ONE).mark_point(shape=SWOOSH_LOW, filled=True, size=1024, color=DARK_GREEN, opacity=1,
                              strokeWidth=0).encode(x=alt.value(rel(766)), y=alt.value(180)),
    label("SPORT", rel(787), 171.5, size=18, color="#111111", weight="bold", style="italic", font="DejaVu Sans"),
    label("CHARTZ", rel(771), 190, size=16, color=DARK_GREEN, style="italic", font="DejaVu Sans"),
    label("SportChartz is an analytics and entertainment platform.", rel(448), 236.8,
          size=10.5, color=FAINT, align="center"),
    label("Does not accept or place wagers. 18+ only.", rel(448), 253.2, size=10.5, color=FAINT, align="center"),
    label("Privacy  |  Terms  |  Cookies", rel(448), 273.2, size=10.5, color=FAINT, align="center"),
    label("\u00a92026 SportChartz", rel(448), 293.3, size=10.5, color=FAINT, align="center"),
    seg(rel(0), rel(896), 317.5, "white"),
).properties(width=PLOT_W, height=318)

chart = alt.vconcat(
    header, p1, spacer_a, rsi_panel, spacer_b, macd_panel, spacer_c, spread_panel, footer,
    spacing=0, bounds="flush",
).properties(
    padding=0, background="white"
).configure_view(
    stroke=None
).configure_axis(
    labelFont=FONT, labelColor=MUTED, labelFontSize=11, domainColor=AXIS_GRAY, domainWidth=2,
    tickColor=AXIS_GRAY, tickSize=5, tickWidth=1, grid=False, labelPadding=3,
).configure_text(font=FONT)

chart.save("out.html", embed_options={"renderer": "svg", "actions": False})
